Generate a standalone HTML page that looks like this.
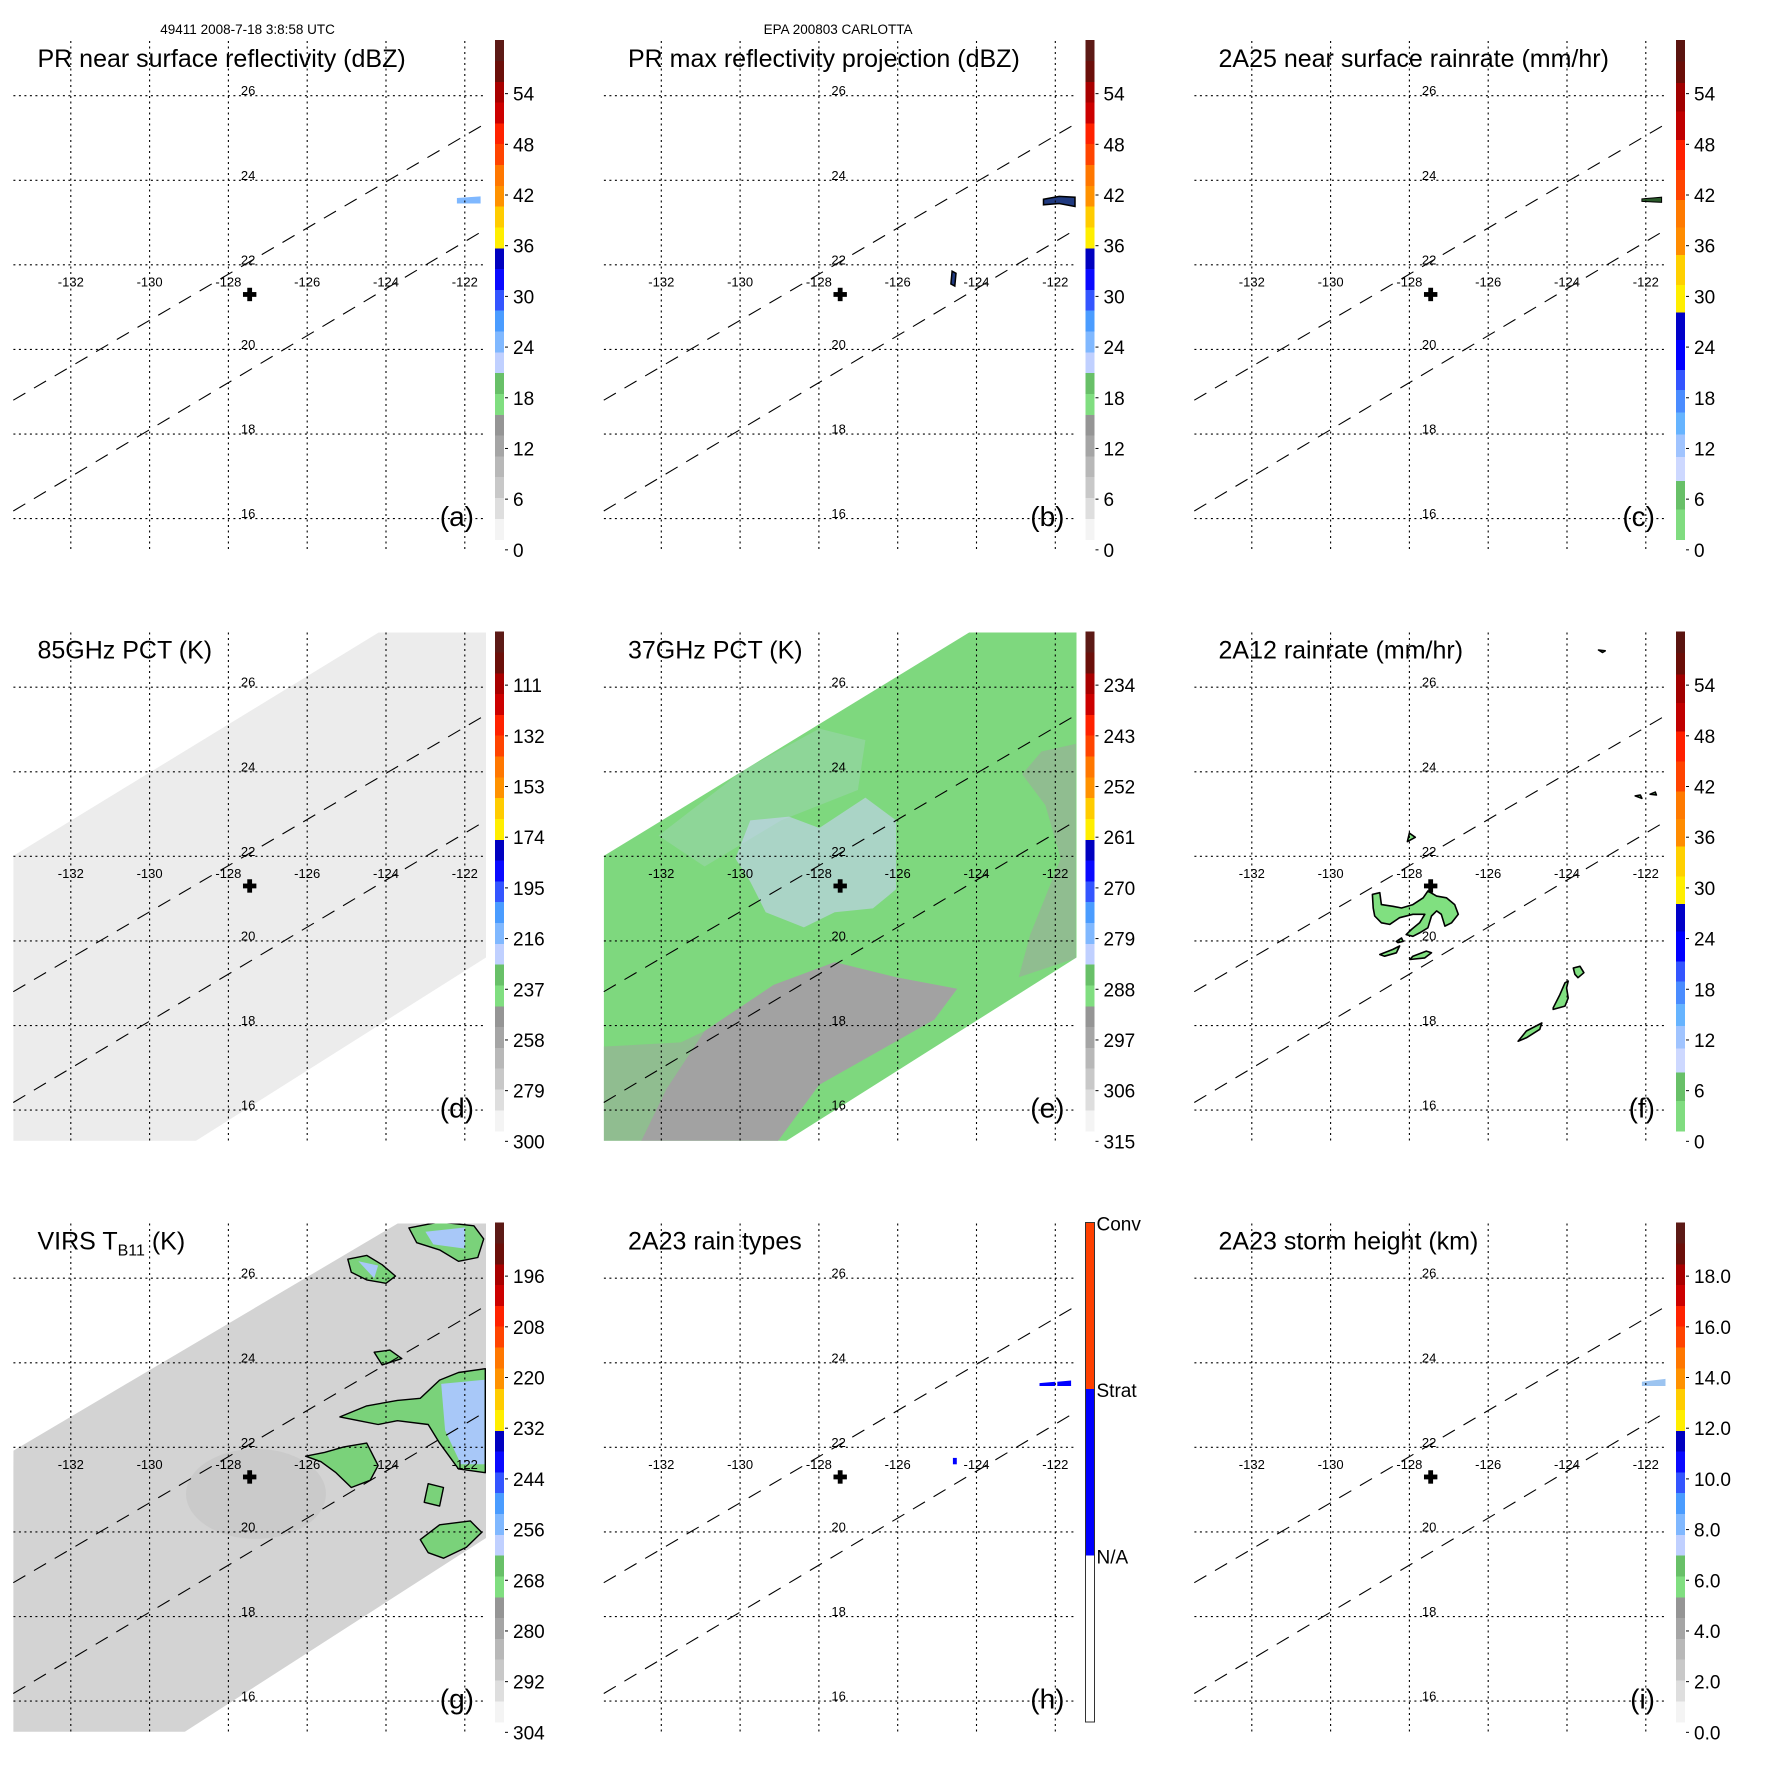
<!DOCTYPE html>
<html><head><meta charset="utf-8">
<style>
html,body{margin:0;padding:0;background:#fff;}
svg{display:block;font-family:"Liberation Sans",Arial,sans-serif;}
</style></head>
<body>
<svg id="fig" width="1771" height="1771" viewBox="0 0 1771 1771" xmlns="http://www.w3.org/2000/svg">
<rect x="0" y="0" width="1771" height="1771" fill="#fff"/>
<defs></defs>
</svg>
<script>
const GRID_LONS=[-132,-130,-128,-126,-124,-122];
const GRID_LATS=[26,24,22,20,18,16];
const SWATH_EDGES=[[-133.46,18.80,-121.46,25.35],[-133.46,16.18,-121.46,22.85]];
const STORM_CENTER=[-127.46,21.3];
const LABELS_DBZ=["54","48","42","36","30","24","18","12","6","0"];
const LABELS_85=["111","132","153","174","195","216","237","258","279","300"];
const LABELS_37=["234","243","252","261","270","279","288","297","306","315"];
const LABELS_VIRS=["196","208","220","232","244","256","268","280","292","304"];
const LABELS_HT=["18.0","16.0","14.0","12.0","10.0","8.0","6.0","4.0","2.0","0.0"];
const CMAP_A=["#5c1a16","#6b0f0a","#a80000","#cc0000","#ff2200","#ff4400","#ff7700","#ff9200","#ffcc00","#ffee00","#0000c0","#0a0aff","#3355ff","#4a9cff","#80b8ff","#c0d0ff","#68c068","#80de80","#959595","#a5a5a5","#b8b8b8","#c8c8c8","#dedede","#f4f4f4"];
const CMAP_C_ENDS=[0.043,0.086,0.143,0.2,0.26,0.32,0.375,0.43,0.49,0.545,0.6,0.66,0.7,0.745,0.79,0.835,0.883,0.94,1.0];
const CMAP_C=["#5a1410","#6a0e08","#a00000","#c00000","#ff2000","#ff4400","#ff7a00","#ff8c00","#ffd000","#ffee00","#0000c8","#0000ff","#3355ff","#4a8cff","#66b4ff","#a0c4ff","#cdd8ff","#68c068","#80dc80"];
const SWATH_DE=[[-133.46,22.01],[-124.0,27.4],[-121.3,27.4],[-121.46,19.61],[-129.29,15.0],[-133.6,15.0]];
const SWATH_G=[[-133.46,21.92],[-123.51,27.4],[-121.3,27.4],[-121.46,19.86],[-129.73,14.9],[-133.6,14.9]];
const E_GRAY=[[-130.9,17.87],[-129.15,18.96],[-127.6,19.5],[-126.04,19.14],[-124.49,18.87],[-125.07,18.14],[-126.43,17.42],[-127.99,16.6],[-129.25,15.0],[-132.65,15.0],[-131.87,16.5]];
const E_GRAY_MIX=[[-133.5,17.5],[-131.5,17.6],[-130.9,17.87],[-131.87,16.5],[-132.65,15.0],[-133.5,15.0]];
const E_GRAY_RIGHT=[[-122.35,24.48],[-121.48,24.66],[-121.48,19.59],[-122.93,19.14],[-122.64,20.14],[-121.86,21.95],[-122.25,23.21],[-122.84,23.94]];
const E_LAV=[[-129.74,22.85],[-128.76,22.94],[-127.99,22.67],[-126.82,23.39],[-126.04,22.85],[-126.04,21.22],[-126.63,20.77],[-127.6,20.68],[-128.38,20.32],[-129.35,20.68],[-129.74,21.40],[-130.12,21.95]];
const E_LAV2=[[-132.07,22.49],[-129.93,24.03],[-127.99,25.02],[-126.82,24.75],[-127.01,23.57],[-128.96,22.85],[-130.9,21.76]];
const G_BLOBS=[
 [[-123.42,27.19],[-122.64,27.33],[-121.77,27.24],[-121.52,26.93],[-121.67,26.49],[-122.16,26.40],[-122.64,26.67],[-123.22,26.84]],
 [[-124.97,26.45],[-124.49,26.54],[-124.1,26.32],[-123.76,26.05],[-124.0,25.88],[-124.49,25.96],[-124.88,26.14]],
 [[-125.17,22.72],[-124.49,22.98],[-123.71,23.11],[-123.13,23.16],[-122.64,23.59],[-122.16,23.77],[-121.48,23.86],[-121.48,21.40],[-122.16,21.49],[-122.64,22.10],[-122.93,22.54],[-123.71,22.63],[-124.2,22.54],[-124.69,22.63]],
 [[-126.04,21.79],[-125.56,21.88],[-125.07,22.01],[-124.49,22.10],[-124.2,21.57],[-124.4,21.22],[-124.88,21.05],[-125.27,21.40],[-125.65,21.66]],
 [[-123.13,19.82],[-122.64,20.17],[-121.86,20.26],[-121.57,19.99],[-121.96,19.64],[-122.54,19.38],[-122.93,19.51]],
 [[-122.93,21.14],[-122.54,21.05],[-122.64,20.61],[-123.03,20.70]],
 [[-124.3,24.25],[-123.9,24.3],[-123.6,24.1],[-124.1,23.95]]
];
const G_BLUE=[
 [[-122.6,23.5],[-121.5,23.6],[-121.5,21.6],[-122.1,21.6],[-122.5,22.4]],
 [[-123.0,27.1],[-122.0,27.2],[-122.0,26.7],[-122.8,26.8]],
 [[-124.7,26.4],[-124.2,26.3],[-124.3,26.0]]
];
const F_BLOBS=[
 [[-128.94,21.10],[-128.75,21.14],[-128.71,20.86],[-128.42,20.82],[-128.2,20.78],[-127.91,20.86],[-127.65,21.02],[-127.53,21.18],[-127.31,21.06],[-127.06,21.02],[-126.85,20.86],[-126.76,20.63],[-126.93,20.43],[-127.1,20.35],[-127.19,20.63],[-127.31,20.71],[-127.44,20.59],[-127.53,20.31],[-127.74,20.19],[-127.91,20.11],[-128.08,20.15],[-127.95,20.27],[-127.74,20.43],[-127.61,20.63],[-127.91,20.63],[-128.25,20.55],[-128.5,20.39],[-128.71,20.43],[-128.88,20.59],[-128.92,20.78]],
 [[-128.75,19.68],[-128.42,19.80],[-128.25,19.88],[-128.33,19.72],[-128.63,19.64]],
 [[-127.91,19.64],[-127.57,19.76],[-127.44,19.72],[-127.61,19.60],[-127.99,19.56]],
 [[-128.33,19.99],[-128.2,20.07],[-128.16,19.99],[-128.29,19.96]],
 [[-124.35,18.42],[-124.18,18.73],[-124.05,19.01],[-123.97,19.05],[-124.01,18.89],[-123.97,18.65],[-124.05,18.46],[-124.35,18.38]],
 [[-123.84,19.36],[-123.67,19.40],[-123.57,19.25],[-123.72,19.13],[-123.8,19.21]],
 [[-125.24,17.63],[-125.03,17.87],[-124.64,18.06],[-124.69,17.91],[-125.03,17.71]],
 [[-121.89,23.47],[-121.76,23.52],[-121.73,23.45]],
 [[-122.27,23.43],[-122.14,23.45],[-122.1,23.37]],
 [[-123.2,26.88],[-123.03,26.86],[-123.1,26.82]],
 [[-128.0,22.55],[-127.85,22.45],[-128.05,22.35]]
];
const B_BLOBS=[[[-122.3,23.55],[-121.9,23.62],[-121.5,23.6],[-121.5,23.38],[-121.9,23.45],[-122.3,23.42]],[[-124.62,21.85],[-124.52,21.8],[-124.55,21.5],[-124.65,21.55]]];
const A_SPECKS=[[[-122.2,23.58],[-121.6,23.62],[-121.6,23.45],[-122.2,23.45]]];
const C_SPECKS=[[[-122.1,23.56],[-121.6,23.6],[-121.6,23.48],[-122.1,23.5]]];
const H_BLOBS=[[[-122.4,23.52],[-122.0,23.55],[-122.0,23.45],[-122.4,23.45]],[[-121.95,23.55],[-121.6,23.58],[-121.6,23.45],[-121.95,23.45]],[[-124.6,21.75],[-124.5,21.75],[-124.5,21.6],[-124.6,21.6]]];
const I_SPECKS=[[[-122.1,23.55],[-121.5,23.62],[-121.5,23.45],[-122.1,23.45]]];

const NS="http://www.w3.org/2000/svg";
const fig=document.getElementById('fig');
function mk(tag,attrs,parent){const e=document.createElementNS(NS,tag);for(const k in attrs)e.setAttribute(k,attrs[k]);parent.appendChild(e);return e;}
const COL_X=[0,590.5,1181], ROW_Y=[0,591.5,1182.5];
const RP={lat26:95.7,sc:42.29,bot:549.2,cbTop:40.2,cbBot:539.6};
const ROWP=[RP,RP,RP];
const PX0=13.4, PX1=486, PY0=41, CBX=494.8, CBW=9.2;

function makePanel(col,row,name){
  const g=mk('g',{transform:`translate(${COL_X[col]},${ROW_Y[row]})`},fig);
  
  
  const rp=ROWP[row];
  const P={g,rp,
    x:lon=>70.8+(lon+132)*39.4,
    y:lat=>rp.lat26+(26-lat)*rp.sc};
  const cid='clip'+col+row;
  const cp=mk('clipPath',{id:cid},g);
  mk('rect',{x:PX0,y:PY0,width:PX1-PX0,height:rp.bot-PY0},cp);
  P.layer=mk('g',{'clip-path':`url(#${cid})`},g);
  
  
  return P;
}
function poly(P,pts,attrs,name){
  const d=pts.map(p=>P.x(p[0]).toFixed(1)+','+P.y(p[1]).toFixed(1)).join(' ');
  const a=Object.assign({points:d},attrs);
  const e=mk('polygon',a,P.layer);
  
  
  return e;
}
function overlay(P){
  const rp=P.rp;
  GRID_LONS.forEach(lon=>{
    const l=mk('line',{x1:P.x(lon),x2:P.x(lon),y1:PY0,y2:rp.bot,stroke:'#000','stroke-width':1.1,'stroke-dasharray':'2,3.5'},P.g);
    
    
    const t=mk('text',{x:P.x(lon),y:P.y(21.6)+4.5,'font-size':13,'text-anchor':'middle',fill:'#000'},P.g);
    t.textContent=String(lon);
    
    
  });
  GRID_LATS.forEach(lat=>{
    const l=mk('line',{x1:PX0,x2:PX1,y1:P.y(lat),y2:P.y(lat),stroke:'#000','stroke-width':1.1,'stroke-dasharray':'2,3.5'},P.g);
    
    
    const t=mk('text',{x:P.x(-127.5),y:P.y(lat)-0.5,'font-size':13,'text-anchor':'middle',fill:'#000'},P.g);
    t.textContent=String(lat);
    
    
  });
  SWATH_EDGES.forEach(s=>{
    const l=mk('line',{x1:P.x(s[0]),y1:P.y(s[1]),x2:P.x(s[2]),y2:P.y(s[3]),stroke:'#000','stroke-width':1.1,'stroke-dasharray':'14,10'},P.g);
    
    
  });
  const cx=P.x(STORM_CENTER[0]), cy=P.y(STORM_CENTER[1]);
  const c1=mk('rect',{x:cx-6.7,y:cy-2.4,width:13.4,height:4.8,fill:'#000'},P.g);
  
  
  const c2=mk('rect',{x:cx-2.4,y:cy-6.7,width:4.8,height:13.4,fill:'#000'},P.g);
  
  
}
function titleAndLetter(P,title,letter,sub){
  const t=mk('text',{x:37.5,y:67,'font-size':25,fill:'#000'},P.g);
  
  
  if(sub){
    const a=mk('tspan',{},t);a.textContent='VIRS T';
    const b=mk('tspan',{'font-size':16,dy:6},t);b.textContent='B11';
    const c=mk('tspan',{dy:-6},t);c.textContent=' (K)';
  } else t.textContent=title;
  const l=mk('text',{x:474,y:P.rp.bot-23,'font-size':28,'text-anchor':'end',fill:'#000'},P.g);
  l.textContent='('+letter+')';
  
  
}
function colorbarUniform(P,cols,labels){
  const rp=P.rp, L=rp.cbBot-rp.cbTop, n=cols.length;
  const cb=mk('g',{'shape-rendering':'crispEdges'},P.g);
  
  
  cols.forEach((c,i)=>{mk('rect',{x:CBX,y:rp.cbTop+L*i/n,width:CBW,height:L/n+0.6,fill:c},cb);});
  cbLabels(P,labels);
}
function colorbarEnds(P,ends,cols,labels){
  const rp=P.rp, L=rp.cbBot-rp.cbTop;
  const cb=mk('g',{'shape-rendering':'crispEdges'},P.g);
  
  
  let s=0;
  ends.forEach((e,i)=>{mk('rect',{x:CBX,y:rp.cbTop+L*s,width:CBW,height:L*(e-s)+0.6,fill:cols[i]},cb);s=e;});
  cbLabels(P,labels);
}
function cbLabels(P,labels){
  const rp=P.rp, L=rp.cbBot-rp.cbTop;
  labels.forEach((lb,k)=>{
    const y=rp.cbTop+L*(0.107+0.1015*k);
    mk('line',{x1:CBX+CBW+1,x2:CBX+CBW+4,y1:y,y2:y,stroke:'#000','stroke-width':1},P.g);
    const t=mk('text',{x:CBX+CBW+9,y:y+7,'font-size':19,fill:'#000'},P.g);
    t.textContent=lb;
    
    
  });
}

const h1=mk('text',{x:247.6,y:34,'font-size':13.5,'text-anchor':'middle',fill:'#000'},fig);
h1.textContent='49411 2008-7-18 3:8:58 UTC';


const h2=mk('text',{x:590.5+247.6,y:34,'font-size':13.5,'text-anchor':'middle',fill:'#000'},fig);
h2.textContent='EPA 200803 CARLOTTA';



let P=makePanel(0,0,'panel-a-pr-near-surface');
A_SPECKS.forEach(b=>poly(P,b,{fill:'#7fb8ff'},'reflectivity-echo'));
overlay(P);titleAndLetter(P,'PR near surface reflectivity (dBZ)','a');colorbarUniform(P,CMAP_A,LABELS_DBZ);
P=makePanel(1,0,'panel-b-pr-max-projection');
B_BLOBS.forEach(b=>poly(P,b,{fill:'#203a80',stroke:'#000','stroke-width':1.5},'reflectivity-echo'));
overlay(P);titleAndLetter(P,'PR max reflectivity projection (dBZ)','b');colorbarUniform(P,CMAP_A,LABELS_DBZ);
P=makePanel(2,0,'panel-c-2a25-rainrate');
C_SPECKS.forEach(b=>poly(P,b,{fill:'#2a5a2a',stroke:'#000','stroke-width':1},'rain-echo'));
overlay(P);titleAndLetter(P,'2A25 near surface rainrate (mm/hr)','c');colorbarEnds(P,CMAP_C_ENDS,CMAP_C,LABELS_DBZ);
P=makePanel(0,1,'panel-d-85ghz-pct');
poly(P,SWATH_DE,{fill:'#ececec'},'tmi-swath');
overlay(P);titleAndLetter(P,'85GHz PCT (K)','d');colorbarUniform(P,CMAP_A,LABELS_85);
P=makePanel(1,1,'panel-e-37ghz-pct');
const sw=poly(P,SWATH_DE,{fill:'#7ed87e'},'tmi-swath');
const cp2=mk('clipPath',{id:'swclip'},P.g);
mk('polygon',{points:sw.getAttribute('points')},cp2);
const inner=mk('g',{'clip-path':'url(#swclip)'},P.layer);


const oldLayer=P.layer;P.layer=inner;
poly(P,E_GRAY,{fill:'#a2a2a2'},'warm-region');
poly(P,E_GRAY_MIX,{fill:'#a2a2a2','fill-opacity':0.5},'warm-region');
poly(P,E_GRAY_RIGHT,{fill:'#a2a2a2','fill-opacity':0.5},'warm-region');
poly(P,E_LAV2,{fill:'#c8d2f6','fill-opacity':0.22},'scattering-region');
poly(P,E_LAV,{fill:'#c8d2f6','fill-opacity':0.6},'scattering-region');
P.layer=oldLayer;
overlay(P);titleAndLetter(P,'37GHz PCT (K)','e');colorbarUniform(P,CMAP_A,LABELS_37);
P=makePanel(2,1,'panel-f-2a12-rainrate');
F_BLOBS.forEach(b=>poly(P,b,{fill:'#80e080',stroke:'#000','stroke-width':1.6,'stroke-linejoin':'round'},'rain-area'));
overlay(P);titleAndLetter(P,'2A12 rainrate (mm/hr)','f');colorbarEnds(P,CMAP_C_ENDS,CMAP_C,LABELS_DBZ);
P=makePanel(0,2,'panel-g-virs-tb11');
poly(P,SWATH_G,{fill:'#d3d3d3'},'virs-swath');
const eg=mk('ellipse',{cx:P.x(-127.3),cy:P.y(20.9),rx:70,ry:45,fill:'#c4c4c4','fill-opacity':0.6},P.layer);


G_BLOBS.forEach(b=>poly(P,b,{fill:'#7ad27a',stroke:'#000','stroke-width':1.4,'stroke-linejoin':'round'},'cold-cloud'));
G_BLUE.forEach(b=>poly(P,b,{fill:'#a8c8f8'},'very-cold-cloud'));
overlay(P);titleAndLetter(P,'','g',true);colorbarUniform(P,CMAP_A,LABELS_VIRS);
P=makePanel(1,2,'panel-h-2a23-rain-types');
H_BLOBS.forEach(b=>poly(P,b,{fill:'#0000ff'},'stratiform-echo'));
overlay(P);titleAndLetter(P,'2A23 rain types','h');
(function(){
  const rp=P.rp, L=rp.cbBot-rp.cbTop, t3=L/3;
  const cb=mk('g',{'shape-rendering':'crispEdges'},P.g);
  
  
  mk('rect',{x:CBX,y:rp.cbTop,width:CBW,height:t3,fill:'#ff4000'},cb);
  mk('rect',{x:CBX,y:rp.cbTop+t3,width:CBW,height:t3,fill:'#0000ff'},cb);
  mk('rect',{x:CBX,y:rp.cbTop+2*t3,width:CBW,height:t3,fill:'#fff'},cb);
  mk('rect',{x:CBX,y:rp.cbTop,width:CBW,height:L,fill:'none',stroke:'#333','stroke-width':1},cb);
  ['Conv','Strat','N/A'].forEach((s,i)=>{
    const t=mk('text',{x:CBX+CBW+2,y:rp.cbTop+t3*i+8,'font-size':19,fill:'#000'},P.g);
    t.textContent=s;
    
    
  });
})();
P=makePanel(2,2,'panel-i-storm-height');
I_SPECKS.forEach(b=>poly(P,b,{fill:'#9cc4f0'},'storm-height-echo'));
overlay(P);titleAndLetter(P,'2A23 storm height (km)','i');colorbarUniform(P,CMAP_A,LABELS_HT);
</script>
</body></html>
